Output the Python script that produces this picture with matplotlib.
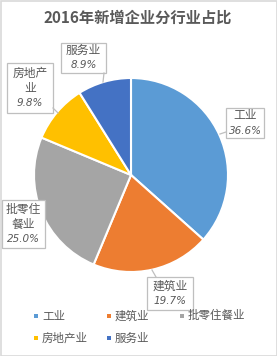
import matplotlib
matplotlib.use("Agg")
import matplotlib.pyplot as plt
from matplotlib.patches import Rectangle
from matplotlib.lines import Line2D

plt.rcParams['font.family'] = ['Noto Sans CJK SC', 'DejaVu Sans']

title = "2016年新增企业分行业占比"
categories = ["工业", "建筑业", "批零住餐业", "房地产业", "服务业"]
values = [36.6, 19.7, 25.0, 9.8, 8.9]
label_text = ["工业", "建筑业", "批零住\n餐业", "房地产\n业", "服务业"]

colors = ["#5B9BD5", "#ED7D31", "#A5A5A5", "#FFC000", "#4472C4"]
TXT = "#595959"

W, H = 277, 356
fig = plt.figure(figsize=(W / 100, H / 100), dpi=100)

def fx(px):
    return px / W

def fy(py):
    return 1 - py / H

# border
fig.add_artist(Rectangle((0.5 / W, 0.5 / H), 1 - 1.0 / W, 1 - 1.0 / H,
                         transform=fig.transFigure, fill=False,
                         edgecolor="#D9D9D9", linewidth=1.2))

fig.text(fx(138), fy(18), title, ha="center", va="center", fontsize=11,
         fontweight="bold", color=TXT)

# pie axes
cx, cy, r = 131, 175, 97
ax = fig.add_axes([fx(cx - r), fy(cy + r), 2 * r / W, 2 * r / H])
ax.pie(values, colors=colors, startangle=90, counterclock=False, radius=1,
       wedgeprops=dict(edgecolor="white", linewidth=1.5))
ax.set_xlim(-1, 1)
ax.set_ylim(-1, 1)
ax.set_aspect("auto")
ax.axis("off")

# data label boxes (layout: box rect in pixels, pointer target)
boxes = [(226, 108, 264, 138), (147, 277, 193, 310), (2, 200, 45, 248),
         (7, 63, 53, 113), (61, 43, 106, 73)]
pointers = [((226, 132), (220, 134)), ((156, 277), (152, 270)),
            ((45, 224), (45, 224)), ((53, 108), (58, 113)),
            ((104, 73), (103, 82))]

for i, (lab, v) in enumerate(zip(label_text, values)):
    x0, y0, x1, y1 = boxes[i]
    fig.add_artist(Rectangle((fx(x0), fy(y1)), fx(x1) - fx(x0), fy(y0) - fy(y1),
                             transform=fig.transFigure, facecolor="white",
                             edgecolor="#BFBFBF", linewidth=0.9))
    (ax_, ay_), (bx, by) = pointers[i]
    if (ax_, ay_) != (bx, by):
        fig.add_artist(Line2D([fx(ax_), fx(bx)], [fy(ay_), fy(by)],
                              transform=fig.transFigure, color="#BFBFBF",
                              linewidth=0.9))
    xc = (x0 + x1) / 2
    lines = lab.split("\n")
    nlines = len(lines) + 1
    step = 15
    top = (y0 + y1) / 2 - (nlines - 1) * step / 2
    for j, ln in enumerate(lines):
        fig.text(fx(xc), fy(top + j * step), ln, ha="center", va="center",
                 fontsize=8.5, color=TXT)
    fig.text(fx(xc), fy(top + (nlines - 1) * step), f"{v:.1f}%",
             ha="center", va="center", fontsize=7.5, style="italic",
             color=TXT, family=["DejaVu Sans"])

# legend (manual grid, equal column widths like the original)
leg_x = [35.5, 108.5, 181.5]
leg_y = [316, 338]
for i, (cat, c) in enumerate(zip(categories, colors)):
    row, col = divmod(i, 3)
    mx, my = leg_x[col], leg_y[row]
    fig.add_artist(Rectangle((fx(mx - 2), fy(my + 2)), 4 / W, 4 / H,
                             transform=fig.transFigure, facecolor=c,
                             edgecolor="none"))
    fig.text(fx(mx + 6.5), fy(my), cat, ha="left", va="center", fontsize=8.3,
             color=TXT)

fig.savefig("out.png", dpi=100)
